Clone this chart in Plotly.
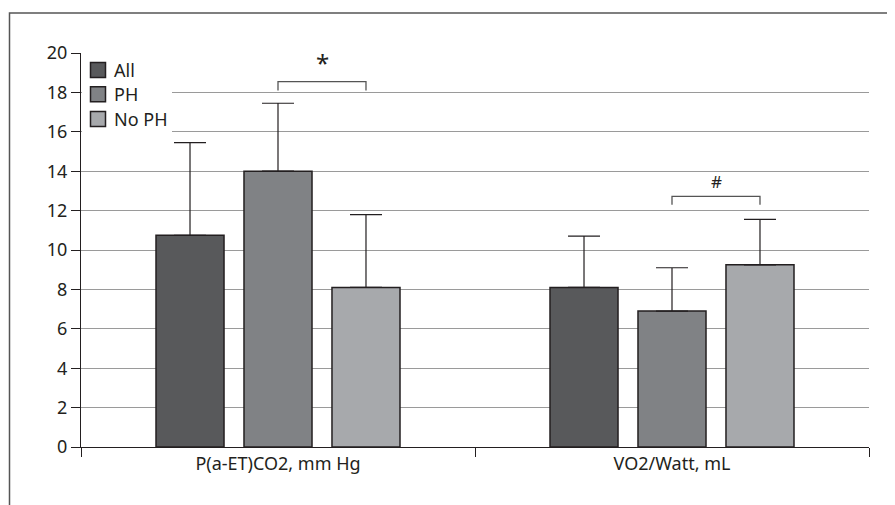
import plotly.graph_objects as go

categories = ["P(a-ET)CO2, mm Hg", "VO2/Watt, mL"]
series_names = ["All", "PH", "No PH"]
all_vals = [10.75, 8.1]
ph_vals = [14.0, 6.9]
noph_vals = [8.1, 9.25]
all_err = [4.7, 2.6]
ph_err = [3.45, 2.2]
noph_err = [3.7, 2.3]
y_ticks = [0, 2, 4, 6, 8, 10, 12, 14, 16, 18, 20]

colors = ["#58595b", "#808285", "#a7a9ac"]
values = [all_vals, ph_vals, noph_vals]
errors = [all_err, ph_err, noph_err]

bargap = 0.33
bargroupgap = 0.227

W, H = 895, 505
ML, MR, MT, MB = 73, 34, 45, 66
PW, PH_ = W - ML - MR, H - MT - MB


def px(x):
    return (x - ML) / PW


def py(y):
    return (H - MB - y) / PH_


fig = go.Figure()
for name, vals, errs, col in zip(series_names, values, errors, colors):
    fig.add_trace(go.Bar(
        x=categories, y=vals, name=name, showlegend=False,
        marker=dict(color=col, line=dict(color="#231f20", width=1.5)),
        error_y=dict(type="data", array=errs, symmetric=False, arrayminus=[0, 0],
                     color="#231f20", thickness=1.2, width=16),
    ))

font_family = "Noto Sans, Open Sans, sans-serif"
txt_col = "#231f20"

fig.update_layout(
    width=W, height=H,
    margin=dict(l=ML, r=MR, t=MT, b=MB),
    paper_bgcolor="white", plot_bgcolor="white",
    barmode="group", bargap=bargap, bargroupgap=bargroupgap,
    font=dict(family=font_family, size=18, color=txt_col),
    showlegend=False,
    xaxis=dict(type="category", range=[-0.5, 1.5], tickson="boundaries",
               ticks="outside", ticklen=9, tickcolor=txt_col, tickwidth=1,
               showline=True, linecolor=txt_col, linewidth=1,
               showgrid=False, tickfont=dict(size=18, color=txt_col)),
    yaxis=dict(range=[0, 20], tickvals=y_ticks, ticks="outside", ticklen=9,
               tickcolor=txt_col, tickwidth=1, showline=True, linecolor=txt_col,
               linewidth=1, showgrid=True, gridcolor="#9a9a9a", gridwidth=1,
               zeroline=False, tickfont=dict(size=18, color=txt_col)),
)

# significance brackets: between PH (middle) and No PH (right) bars
slot = (1 - bargap) / 3
brackets = [(0, 18.55, 18.1, "*", 24), (1, 12.72, 12.3, "#", 17)]
for cat, ytop, yend, label, fs in brackets:
    x0 = cat
    x1 = cat + slot
    fig.add_shape(type="path",
                  path=f"M {x0} {yend} L {x0} {ytop} L {x1} {ytop} L {x1} {yend}",
                  xref="x", yref="y", line=dict(color="#555555", width=1.3))
    fig.add_annotation(x=(x0 + x1) / 2, y=ytop, xref="x", yref="y", text=label,
                       showarrow=False, yanchor="bottom", yshift=1,
                       font=dict(size=fs, color=txt_col))

# legend (custom, to match square size and spacing); white box hides gridlines
fig.add_shape(type="rect", xref="paper", yref="paper", layer="above",
              x0=px(ML + 1), x1=px(164), y0=py(137), y1=py(50),
              fillcolor="white", line=dict(width=0))
row_y = [62, 86.3, 111]
for name, col, ry in zip(series_names, colors, row_y):
    fig.add_shape(type="rect", xref="paper", yref="paper", layer="above",
                  x0=px(82.5), x1=px(97.5), y0=py(ry + 7.5), y1=py(ry - 7.5),
                  fillcolor=col, line=dict(color="#231f20", width=1.5))
    fig.add_annotation(x=px(103.5), y=py(ry), xref="paper", yref="paper",
                       text=name, showarrow=False, xanchor="left",
                       yanchor="middle", font=dict(size=18, color=txt_col))

# outer frame (extends past right and bottom edges)
fig.add_shape(type="rect", xref="paper", yref="paper",
              x0=px(1.5), x1=px(920), y0=py(530), y1=py(5),
              line=dict(color="#555555", width=1.5), layer="below")

fig.write_html("out.html")
